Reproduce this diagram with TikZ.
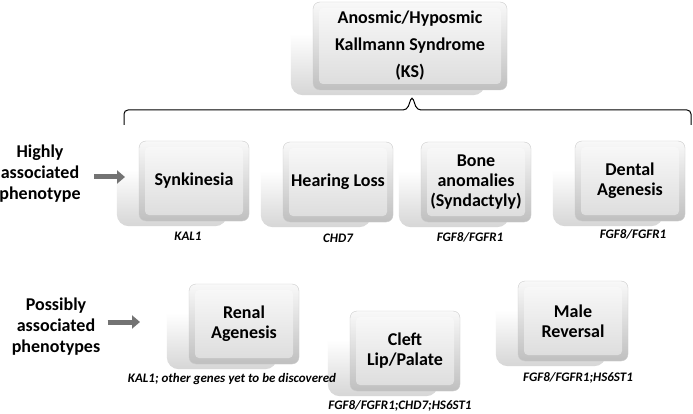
\documentclass[tikz,border=0pt]{standalone}
\usepackage{fontspec}
\setmainfont{Carlito}
\usetikzlibrary{positioning,backgrounds,arrows.meta}
\pgfdeclareverticalshading{boxshadow}{100bp}{color(0bp)=(gray!55); color(22bp)=(gray!35); color(60bp)=(white); color(100bp)=(white)}
\tikzset{
    pheno box/.style = {
        rounded corners=7pt,
        minimum width=110pt,
        minimum height=80pt,
        align=center,
        font=\fontsize{18}{20}\selectfont\bfseries,
        text=black,
        draw=gray!40,
        top color=gray!5,
        bottom color=gray!50,
        path picture={
            \shade[top color=gray!4, bottom color=gray!28, rounded corners=4pt]
                ([shift={(6pt,-6pt)}]path picture bounding box.north west)
                rectangle ([shift={(-6pt,6pt)}]path picture bounding box.south east);
        },
    },
    box shadow/.style = {
        rounded corners=12pt,
        shading=boxshadow,
    },
    gene/.style = {
        font=\fontsize{13}{15}\selectfont\bfseries\itshape,
        inner sep=1pt,
        text height=8.5pt,
        text depth=2.5pt,
    },
    group label/.style = {
        align=center,
        font=\fontsize{18}{21}\selectfont\bfseries,
    },
    big arrow/.style = {
        -{Triangle[length=8pt,width=13pt]},
        line width=5pt,
        draw=black!55,
    },
}

\begin{document}
\begin{tikzpicture}[x=1pt, y=-1pt]
    \useasboundingbox (0,0) rectangle (693,414);

    \node[pheno box, minimum width=194pt, minimum height=88pt,
        font=\fontsize{18}{27}\selectfont\bfseries] (ks) at (410,46)
        {Anosmic/Hyposmic\\Kallmann Syndrome\\(KS)};

    % brace under KS
    \coordinate (brace left) at (124,125);
    \coordinate (brace mid) at (412,110);
    \coordinate (brace tip) at (412,96);
    \coordinate (brace right) at (691,125);
    \draw[line width=1pt, rounded corners=4pt] (brace left) |- ([xshift=-5pt]brace mid)
        -- (brace tip) -- ([xshift=5pt]brace mid) -| (brace right);

    % highly associated
    \node[group label] (high) at (40,174) {Highly\\associated\\phenotype};
    \coordinate (high head) at (125,177);
    \draw[big arrow, shorten <=10pt] (high.east |- high head) -- (high head);

    \node[pheno box] (synk) at (194,181) {Synkinesia};
    \node[pheno box] (hear) at (338,182) {Hearing Loss};
    \node[pheno box] (bone) at (476,182) {Bone\\anomalies\\(Syndactyly)};
    \node[pheno box] (dental) at (630,181) {Dental\\Agenesis};

    \node[gene, below=10pt of synk, xshift=-6pt] (synk gene) {KAL1};
    \node[gene, below=11pt of hear] (hear gene) {CHD7};
    \node[gene, below=10pt of bone, xshift=-6pt] (bone gene) {FGF8/FGFR1};
    \node[gene, below=8pt of dental, xshift=3pt] (dental gene) {FGF8/FGFR1};

    % possibly associated
    \node[group label] (maybe) at (56,327) {Possibly\\associated\\phenotypes};
    \coordinate (maybe head) at (140,322);
    \draw[big arrow, shorten <=4pt] (maybe.east |- maybe head) -- (maybe head);

    \node[pheno box] (renal) at (244,324) {Renal\\Agenesis};
    \node[pheno box] (cleft) at (405,351) {Cleft\\Lip/Palate};
    \node[pheno box] (male) at (573,321) {Male\\Reversal};

    \node[gene, below=9pt of renal, xshift=-12pt] (renal gene) {KAL1; other genes yet to be discovered};
    \node[gene, below=9pt of cleft, xshift=-5pt] (cleft gene) {FGF8/FGFR1;CHD7;HS6ST1};
    \node[gene, below=11pt of male, xshift=5pt] (male gene) {FGF8/FGFR1;HS6ST1};

    % soft shadows behind the boxes
    \begin{scope}[on background layer]
        \fill[white] (0,0) rectangle (693,414);
        \foreach \b in {ks,synk,hear,bone,dental,renal,cleft,male}
            \shade[box shadow] ([shift={(-22pt,-5pt)}]\b.south west)
                rectangle ([shift={(-22pt,-5pt)}]\b.north east);
    \end{scope}
\end{tikzpicture}
\end{document}
